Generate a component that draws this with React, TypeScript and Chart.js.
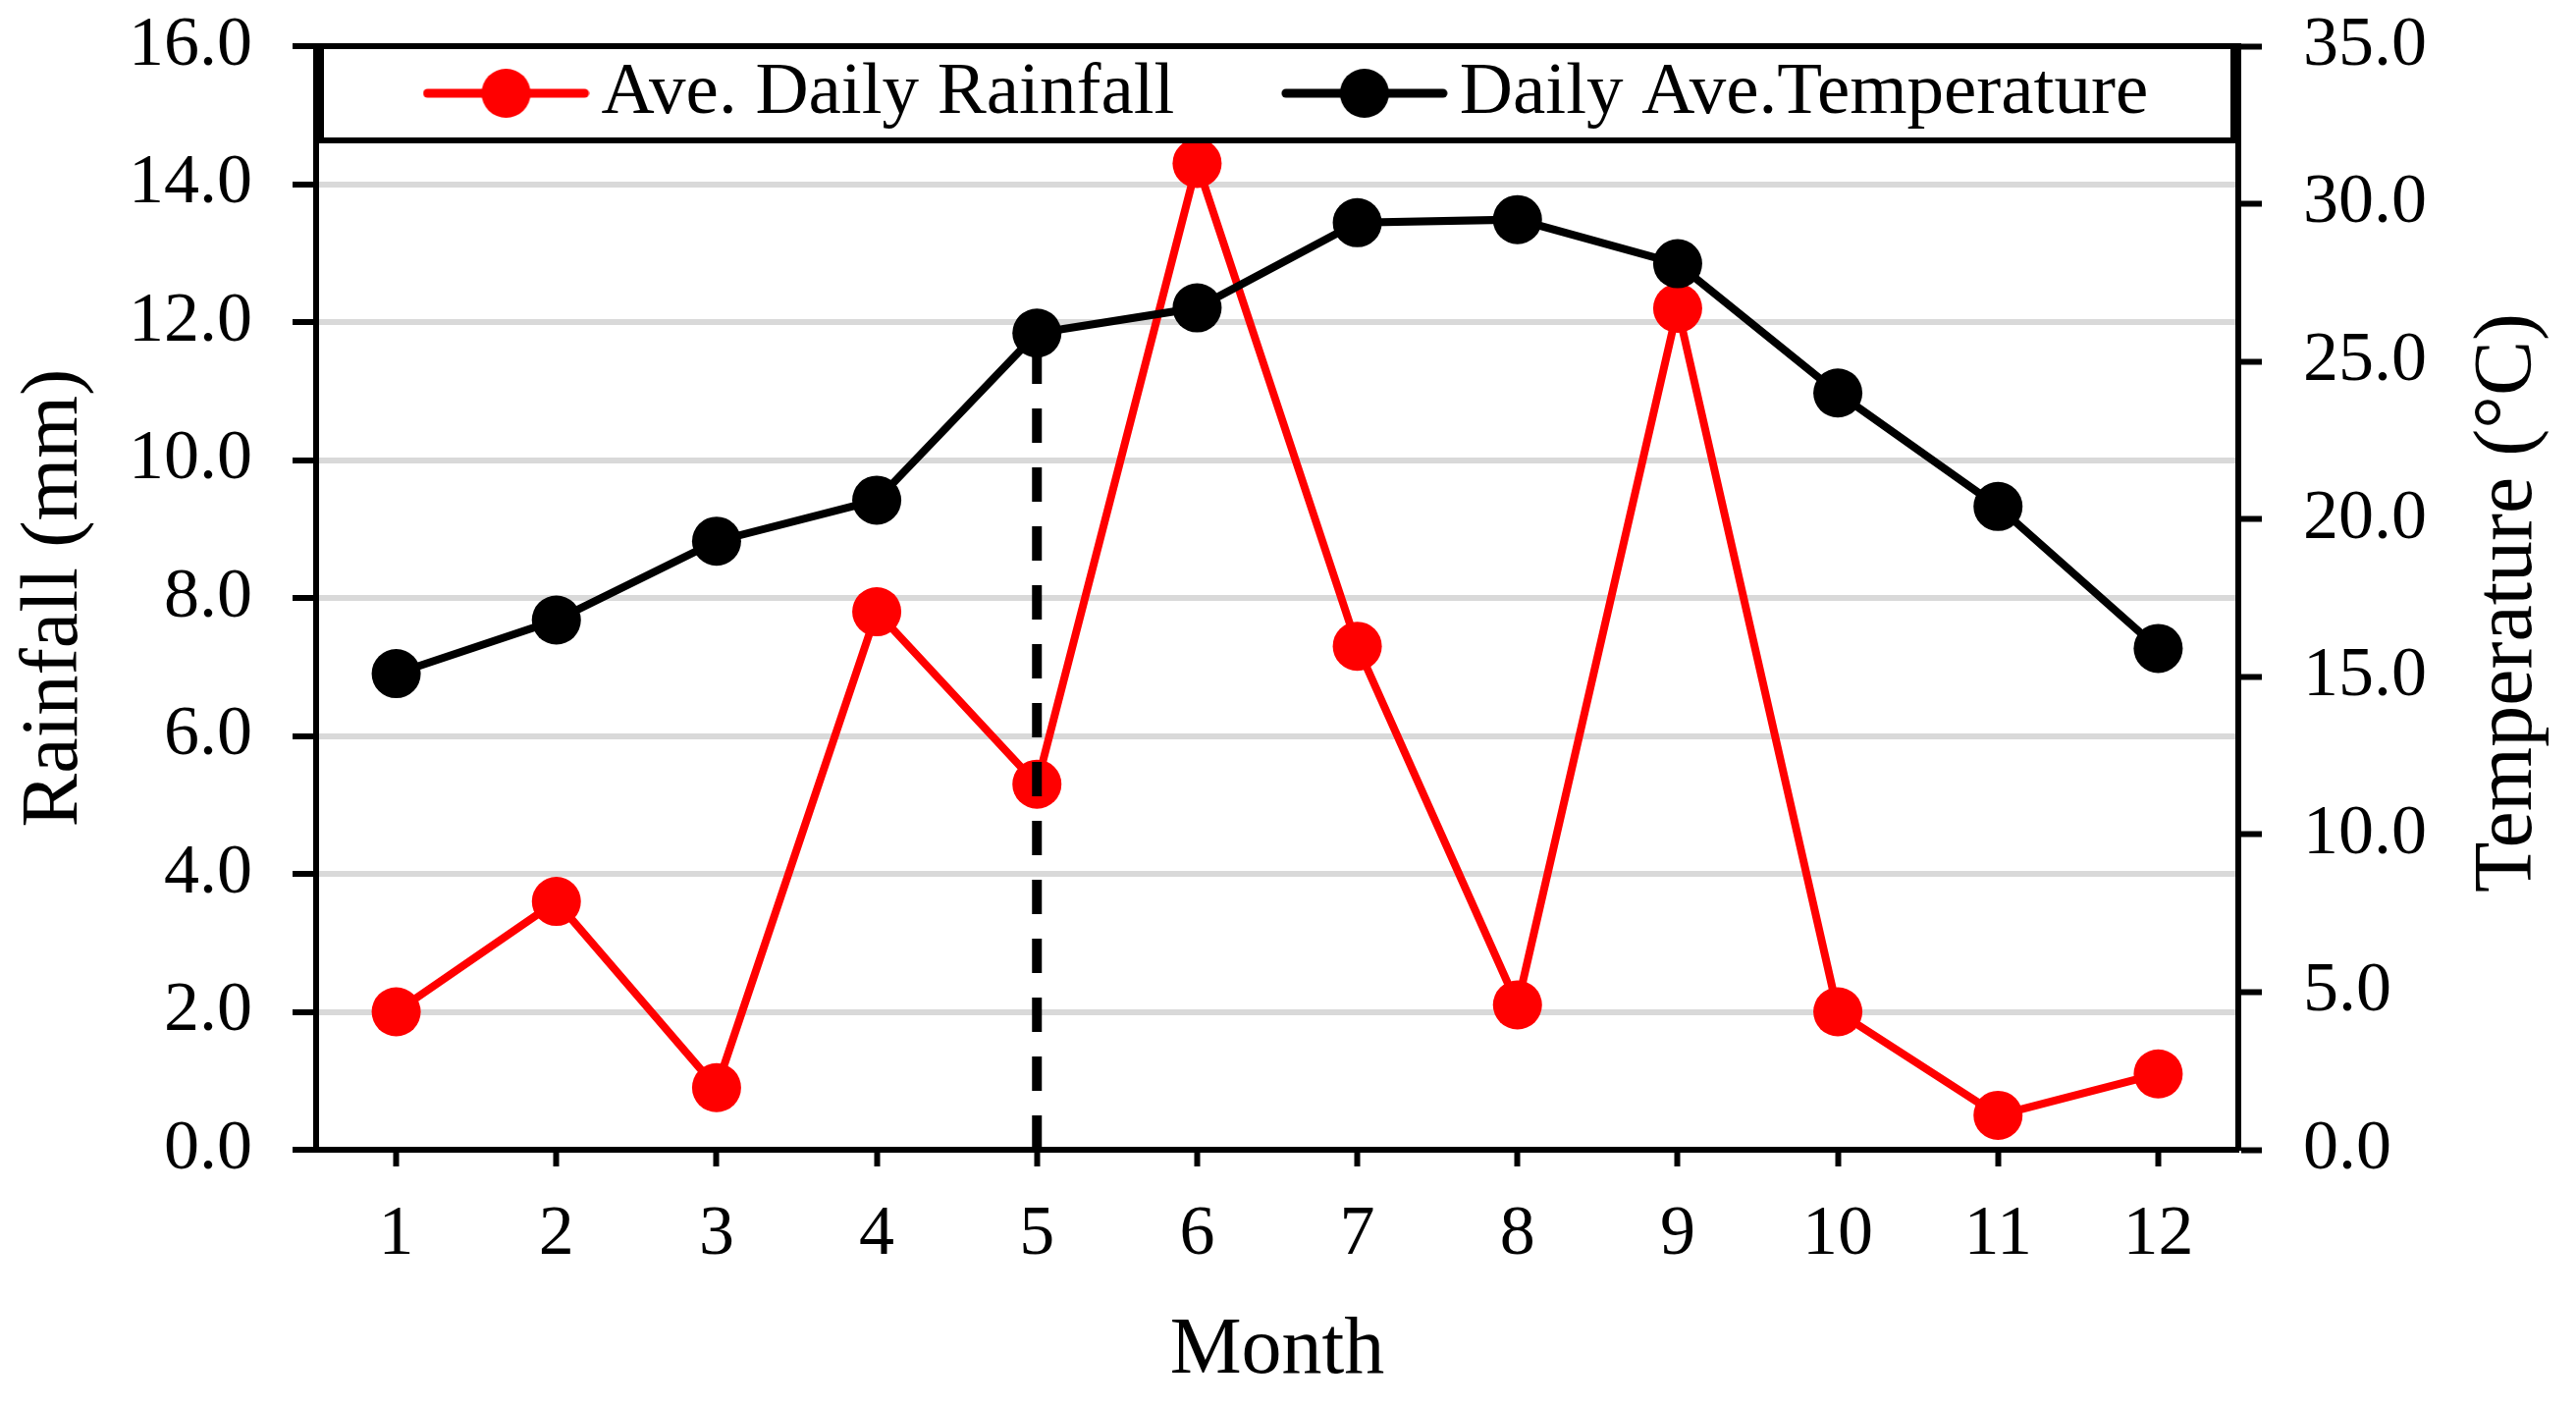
import React, { useEffect, useRef } from 'react';
import { Chart, registerables } from 'chart.js';

Chart.register(...registerables);

// ---- data ----
const months = ['1', '2', '3', '4', '5', '6', '7', '8', '9', '10', '11', '12'];
const rainfall = [2.0, 3.6, 0.9, 7.8, 5.3, 14.3, 7.3, 2.1, 12.2, 2.0, 0.5, 1.1];
const temperature = [15.1, 16.8, 19.3, 20.6, 25.9, 26.7, 29.4, 29.5, 28.1, 24.0, 20.4, 15.9];
const rainfallLabel = 'Ave. Daily Rainfall';
const temperatureLabel = 'Daily Ave.Temperature';
const markerMonth = '5';
const rainAxis = { min: 0, max: 16, step: 2 };
const tempAxis = { min: 0, max: 35, step: 5 };
const xTitle = 'Month';
const leftTitle = 'Rainfall (mm)';
const rightTitle = 'Temperature (°C)';

// ---- styles ----
const FONT = "'Liberation Serif', 'Times New Roman', serif";
const RED = '#ff0000';
const BLACK = '#000000';
const GRID = '#d9d9d9';
const LEGEND_FONT = 75;
const LEGEND_PAD = 134;
const LEGEND_BOX_H = 96;
const LEGEND_CENTER = 48;

function makeLegendIcon(color: string) {
  const c = document.createElement('canvas');
  c.width = 170;
  c.height = 54;
  const g = c.getContext('2d') as CanvasRenderingContext2D;
  g.strokeStyle = color;
  g.lineWidth = 9;
  g.lineCap = 'round';
  g.beginPath();
  g.moveTo(5, 27);
  g.lineTo(165, 27);
  g.stroke();
  g.fillStyle = color;
  g.beginPath();
  g.arc(85, 27, 25, 0, Math.PI * 2);
  g.fill();
  return c;
}

const plotFrame: any = {
  id: 'plotFrame',
  beforeLayout(chart: any) {
    const lg = chart.legend;
    if (lg && !lg.__patched) {
      const origFit = lg.fit;
      lg.fit = function (this: any) {
        origFit.call(this);
        this.__h = this.height;
        this.height = 0;
      };
      lg.__patched = true;
    }
  },
  afterLayout(chart: any) {
    const lg = chart.legend;
    const ca = chart.chartArea;
    if (!lg || !ca) return;
    lg.left = ca.left;
    lg.right = chart.width;
    lg.width = lg.right - lg.left;
    lg.top = ca.top + LEGEND_CENTER - LEGEND_PAD - LEGEND_FONT / 2;
    lg.bottom = ca.top + LEGEND_BOX_H;
    lg.height = lg.bottom - lg.top;
  },
  afterDraw(chart: any) {
    const ctx = chart.ctx;
    const ca = chart.chartArea;
    ctx.save();
    ctx.strokeStyle = BLACK;
    ctx.lineWidth = 6;
    // legend frame
    ctx.beginPath();
    ctx.moveTo(ca.left - 3, ca.top);
    ctx.lineTo(ca.right + 3, ca.top);
    ctx.stroke();
    ctx.beginPath();
    ctx.moveTo(ca.left + 5, ca.top);
    ctx.lineTo(ca.left + 5, ca.top + LEGEND_BOX_H);
    ctx.lineTo(ca.right - 5, ca.top + LEGEND_BOX_H);
    ctx.lineTo(ca.right - 5, ca.top);
    ctx.stroke();
    // right axis title (reads bottom to top)
    const s = chart.scales.y1;
    ctx.fillStyle = BLACK;
    ctx.font = `84px ${FONT}`;
    ctx.textAlign = 'center';
    ctx.textBaseline = 'middle';
    ctx.translate(s.right - 68, (ca.top + ca.bottom) / 2 + 5);
    ctx.rotate(-Math.PI / 2);
    ctx.fillText(rightTitle, 0, 0);
    ctx.restore();
  },
};

const noOverflowPadding = (s: any) => {
  s.paddingTop = 0;
  s.paddingBottom = 0;
  s.paddingLeft = 0;
  s.paddingRight = 0;
};

export default function App() {
  const ref = useRef<HTMLCanvasElement>(null);

  useEffect(() => {
    const canvas = ref.current;
    if (!canvas) return;
    const icons = [makeLegendIcon(RED), makeLegendIcon(BLACK)];
    const markerTemp = temperature[months.indexOf(markerMonth)];

    const chart = new Chart(canvas, {
      type: 'line',
      data: {
        labels: months,
        datasets: [
          {
            label: rainfallLabel,
            data: rainfall,
            yAxisID: 'y',
            borderColor: RED,
            backgroundColor: RED,
            borderWidth: 8,
            pointRadius: 25,
            pointHoverRadius: 25,
            pointBackgroundColor: RED,
            pointBorderWidth: 0,
            fill: false,
            tension: 0,
            order: 3,
          },
          {
            label: temperatureLabel,
            data: temperature,
            yAxisID: 'y1',
            borderColor: BLACK,
            backgroundColor: BLACK,
            borderWidth: 8,
            pointRadius: 25,
            pointHoverRadius: 25,
            pointBackgroundColor: BLACK,
            pointBorderWidth: 0,
            fill: false,
            tension: 0,
            order: 1,
          },
          {
            label: 'marker',
            data: [
              { x: markerMonth, y: 0 },
              { x: markerMonth, y: markerTemp },
            ] as any,
            yAxisID: 'y1',
            borderColor: BLACK,
            borderWidth: 10,
            borderDash: [35, 25],
            pointRadius: 0,
            pointHoverRadius: 0,
            fill: false,
            order: 2,
          },
        ],
      },
      options: {
        animation: false,
        responsive: true,
        maintainAspectRatio: false,
        devicePixelRatio: 1,
        events: [],
        layout: { padding: { top: 47, left: 0, right: 0, bottom: 0 } },
        plugins: {
          tooltip: { enabled: false },
          legend: {
            display: true,
            position: 'top',
            align: 'start',
            labels: {
              usePointStyle: true,
              pointStyleWidth: 119,
              padding: LEGEND_PAD,
              color: BLACK,
              font: { family: FONT, size: LEGEND_FONT },
              generateLabels: (c: any) =>
                c.data.datasets.slice(0, 2).map((ds: any, i: number) => ({
                  text: ds.label,
                  pointStyle: icons[i],
                  fillStyle: ds.borderColor,
                  strokeStyle: ds.borderColor,
                  fontColor: BLACK,
                  lineWidth: 0,
                  hidden: false,
                  datasetIndex: i,
                })),
            },
          },
        },
        scales: {
          x: {
            type: 'category',
            offset: true,
            grid: {
              offset: false,
              drawOnChartArea: false,
              drawTicks: true,
              tickLength: 17,
              tickWidth: 6,
              tickColor: BLACK,
            },
            border: { display: true, color: BLACK, width: 6 },
            ticks: {
              color: BLACK,
              font: { family: FONT, size: 72 },
              padding: 27,
              maxRotation: 0,
              autoSkip: false,
            },
            title: {
              display: true,
              text: xTitle,
              color: BLACK,
              font: { family: FONT, size: 82 },
              padding: { top: 0, bottom: 7 },
            },
            afterFit: (s: any) => {
              s.height = 262;
              noOverflowPadding(s);
            },
          },
          y: {
            type: 'linear',
            position: 'left',
            min: rainAxis.min,
            max: rainAxis.max,
            ticks: {
              stepSize: rainAxis.step,
              color: BLACK,
              font: { family: FONT, size: 72 },
              padding: 41,
              callback: (v: any) => Number(v).toFixed(1),
            },
            grid: {
              color: GRID,
              lineWidth: 6,
              drawTicks: true,
              tickLength: 24,
              tickWidth: 6,
              tickColor: BLACK,
            },
            border: { display: true, color: BLACK, width: 6 },
            title: {
              display: true,
              text: leftTitle,
              color: BLACK,
              font: { family: FONT, size: 82 },
              padding: { top: 7, bottom: 0 },
            },
            afterFit: (s: any) => {
              s.width = 322;
              noOverflowPadding(s);
            },
          },
          y1: {
            type: 'linear',
            position: 'right',
            min: tempAxis.min,
            max: tempAxis.max,
            ticks: {
              stepSize: tempAxis.step,
              color: BLACK,
              font: { family: FONT, size: 72 },
              padding: 42,
              callback: (v: any) => Number(v).toFixed(1),
            },
            grid: {
              drawOnChartArea: false,
              drawTicks: true,
              tickLength: 24,
              tickWidth: 6,
              tickColor: BLACK,
            },
            border: { display: true, color: BLACK, width: 6 },
            afterFit: (s: any) => {
              s.width = 344;
              noOverflowPadding(s);
            },
          },
        },
      } as any,
      plugins: [plotFrame],
    });

    return () => chart.destroy();
  }, []);

  return (
    <div
      style={{
        position: 'absolute',
        left: 0,
        top: 0,
        width: 2624,
        height: 1433,
        background: '#ffffff',
      }}
    >
      <canvas ref={ref} />
    </div>
  );
}
